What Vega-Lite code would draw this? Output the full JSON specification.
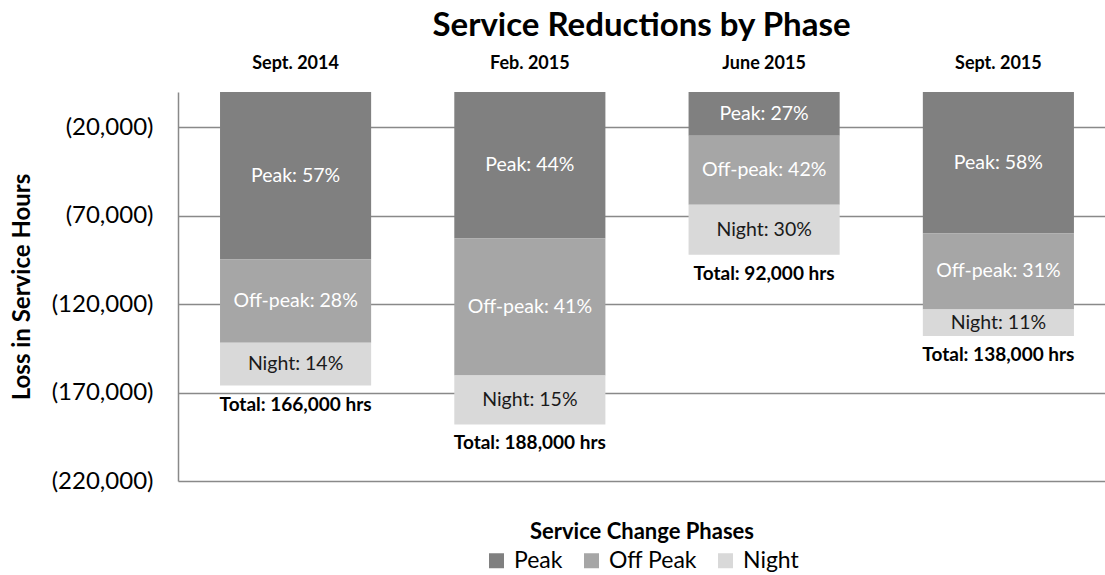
{
  "$schema": "https://vega.github.io/schema/vega-lite/v6.json",
  "width": 927,
  "height": 389,
  "autosize": {"type": "none"},
  "padding": {"left": 178, "top": 92, "right": 0, "bottom": 94},
  "background": "white",
  "title": {
    "text": "Service Reductions by Phase",
    "font": "Lato",
    "fontSize": 33,
    "fontWeight": "bold",
    "color": "#000000",
    "anchor": "middle",
    "frame": "group",
    "offset": 11
  },
  "datasets": {
    "segments": [
      {"phase": "Sept. 2014", "seg": "Peak", "hours": -94700, "label": "Peak: 57%"},
      {"phase": "Sept. 2014", "seg": "Off Peak", "hours": -47100, "label": "Off-peak: 28%"},
      {"phase": "Sept. 2014", "seg": "Night", "hours": -24200, "label": "Night: 14%"},
      {"phase": "Feb. 2015", "seg": "Peak", "hours": -82900, "label": "Peak: 44%"},
      {"phase": "Feb. 2015", "seg": "Off Peak", "hours": -77400, "label": "Off-peak: 41%"},
      {"phase": "Feb. 2015", "seg": "Night", "hours": -27700, "label": "Night: 15%"},
      {"phase": "June 2015", "seg": "Peak", "hours": -24700, "label": "Peak: 27%"},
      {"phase": "June 2015", "seg": "Off Peak", "hours": -39000, "label": "Off-peak: 42%"},
      {"phase": "June 2015", "seg": "Night", "hours": -28300, "label": "Night: 30%"},
      {"phase": "Sept. 2015", "seg": "Peak", "hours": -80000, "label": "Peak: 58%"},
      {"phase": "Sept. 2015", "seg": "Off Peak", "hours": -43000, "label": "Off-peak: 31%"},
      {"phase": "Sept. 2015", "seg": "Night", "hours": -15000, "label": "Night: 11%"}
    ],
    "totals": [
      {"phase": "Sept. 2014", "total": -166000, "label": "Total: 166,000 hrs"},
      {"phase": "Feb. 2015", "total": -188000, "label": "Total: 188,000 hrs"},
      {"phase": "June 2015", "total": -92000, "label": "Total: 92,000 hrs"},
      {"phase": "Sept. 2015", "total": -138000, "label": "Total: 138,000 hrs"}
    ]
  },
  "layer": [
    {
      "data": {"name": "segments"},
      "transform": [
        {"stack": "hours", "groupby": ["phase"], "sort": [{"field": "seg", "order": "descending"}], "as": ["y0", "y1"]}
      ],
      "mark": {"type": "bar"},
      "encoding": {
        "x": {
          "field": "phase", "type": "nominal",
          "sort": ["Sept. 2014", "Feb. 2015", "June 2015", "Sept. 2015"],
          "scale": {"paddingInner": 0.355, "paddingOuter": 0.156, "align": 0.575},
          "axis": {
            "orient": "top", "title": null, "domain": false, "ticks": false, "tickSize": 0, "grid": false,
            "labelFont": "Lato", "labelFontSize": 18, "labelFontWeight": "bold", "labelColor": "#000000",
            "labelPadding": 20, "labelAngle": 0
          }
        },
        "y": {
          "field": "y0", "type": "quantitative",
          "scale": {"domain": [-220000, 0], "nice": false, "zero": false},
          "axis": {
            "title": "Loss in Service Hours",
            "values": [-20000, -70000, -120000, -170000, -220000],
            "labelExpr": "'(' + format(-datum.value, ',') + ')'",
            "grid": true, "gridColor": "#898989", "gridWidth": 1.5,
            "domain": true, "domainColor": "#898989", "domainWidth": 1.5,
            "ticks": false, "tickSize": 0,
            "labelFont": "Lato", "labelFontSize": 24, "labelColor": "#000000", "labelPadding": 25,
            "titleFont": "Lato", "titleFontSize": 24, "titleFontWeight": "bold", "titleColor": "#000000", "titlePadding": 17
          }
        },
        "y2": {"field": "y1"},
        "color": {
          "field": "seg", "type": "nominal",
          "scale": {"domain": ["Peak", "Off Peak", "Night"], "range": ["#808080", "#a6a6a6", "#d9d9d9"]},
          "legend": {
            "title": "Service Change Phases",
            "orient": "bottom", "direction": "horizontal", "titleAnchor": "middle", "offset": 41,
            "titleLimit": 600,
            "symbolType": "square", "symbolSize": 225, "symbolStrokeWidth": 0,
            "labelFont": "Lato", "labelFontSize": 23, "labelColor": "#000000",
            "titleFont": "Lato", "titleFontSize": 22, "titleFontWeight": "bold", "titleColor": "#000000",
            "columnPadding": 17, "labelOffset": 6
          }
        }
      }
    },
    {
      "data": {"name": "segments"},
      "transform": [
        {"stack": "hours", "groupby": ["phase"], "sort": [{"field": "seg", "order": "descending"}], "as": ["y0", "y1"]},
        {"calculate": "(datum.y0 + datum.y1) / 2", "as": "mid"}
      ],
      "mark": {"type": "text", "font": "Lato", "fontSize": 19.5, "baseline": "middle", "align": "center"},
      "encoding": {
        "x": {"field": "phase", "type": "nominal", "sort": ["Sept. 2014", "Feb. 2015", "June 2015", "Sept. 2015"]},
        "y": {"field": "mid", "type": "quantitative"},
        "text": {"field": "label"},
        "color": {"condition": {"test": "datum.seg === 'Night'", "value": "#1a1a1a"}, "value": "#ffffff"}
      }
    },
    {
      "data": {"name": "totals"},
      "mark": {"type": "text", "font": "Lato", "fontSize": 19, "fontWeight": "bold", "baseline": "top", "align": "center", "dy": 10, "color": "#000000"},
      "encoding": {
        "x": {"field": "phase", "type": "nominal", "sort": ["Sept. 2014", "Feb. 2015", "June 2015", "Sept. 2015"]},
        "y": {"field": "total", "type": "quantitative"},
        "text": {"field": "label"}
      }
    }
  ],
  "config": {
    "view": {"stroke": null},
    "legend": {"layout": {"bottom": {"anchor": "middle"}}}
  }
}
